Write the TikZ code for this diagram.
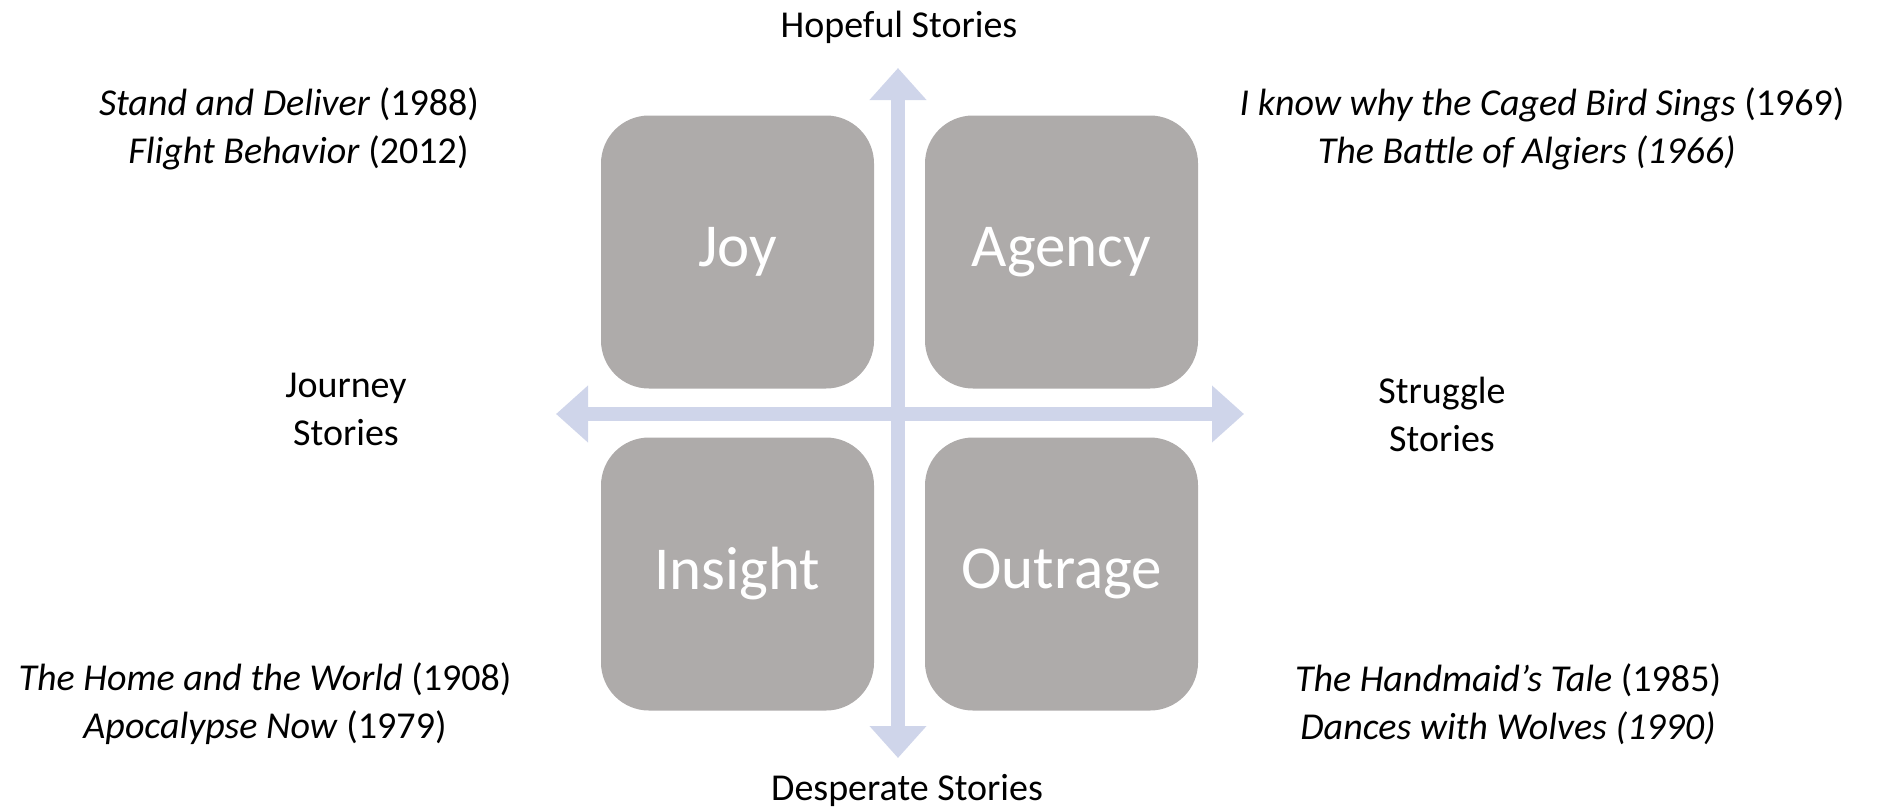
\documentclass[tikz,border=0pt]{standalone}
\usepackage{fontspec}
\setmainfont{Carlito}
\usetikzlibrary{arrows.meta}
\definecolor{boxgray}{HTML}{AEABAA}
\definecolor{axisblue}{HTML}{CFD5EA}
\tikzset{
  quad/.style={fill=boxgray, draw=none, rounded corners=48pt, minimum width=273pt, minimum height=273pt, inner sep=0pt,
    text=white, font=\fontsize{61}{70}\selectfont},
  axis/.style={draw=axisblue, line width=14pt},
  lbl/.style={font=\fontsize{38}{48}\selectfont, align=center, inner sep=0pt},
}
\begin{document}
\begin{tikzpicture}[x=1pt,y=-1pt]
\useasboundingbox (0,0) rectangle (1881,807);
% quadrant boxes
\node[quad] (joy) at (737.5,252) {Joy};
\node[quad] (agency) at (1061.5,252) {Agency};
\node[quad] (insight) at (737.5,574) {Insight};
\node[quad] (outrage) at (1061.5,574) {Outrage};
% axes
\coordinate (T) at (898,68);
\coordinate (B) at (898,758);
\coordinate (L) at (556,414);
\coordinate (R) at (1244,414);
\draw[axis, {Triangle[width=55pt,length=32pt,color=axisblue]}-{Triangle[width=55pt,length=32pt,color=axisblue]}] (B) -- (T);
\draw[axis, {Triangle[width=55pt,length=32pt,color=axisblue]}-{Triangle[width=55pt,length=32pt,color=axisblue]}] (L) -- (R);
% axis labels
\node[lbl] (hope) at (899,27) {Hopeful Stories};
\node[lbl] (desp) at (907,790) {Desperate Stories};
\node[lbl] (jour) at (346,409) {Journey\\Stories};
\node[lbl] (strug) at (1442,414) {Struggle\\Stories};
% examples
\node[lbl] (tl) at (289,129) {\textit{Stand and Deliver} (1988)\\ \hspace*{0.5em}\textit{Flight Behavior} (2012)};
\node[lbl] (tr) at (1542,129) {\textit{I know why the Caged Bird Sings} (1969)\\ \textit{The Battle of Algiers (1966)}\hspace*{0.8em}};
\node[lbl] (bl) at (265,704) {\textit{The Home and the World} (1908)\\ \textit{Apocalypse Now} (1979)};
\node[lbl] (br) at (1508,704) {\textit{The Handmaid’s Tale} (1985)\\ \textit{Dances with Wolves (1990)}};
\end{tikzpicture}
\end{document}
